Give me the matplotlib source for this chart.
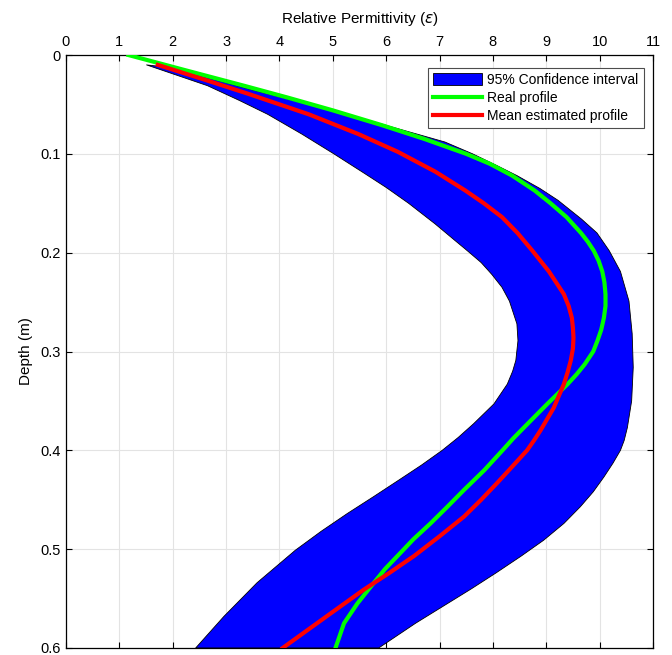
import matplotlib.pyplot as plt
from matplotlib.patches import Patch
from matplotlib.lines import Line2D

plt.rcParams['font.family'] = ['Liberation Sans', 'DejaVu Sans']

# Real profile (depth in m, relative permittivity)
real_depth = [0.000, 0.015, 0.031, 0.043, 0.056, 0.071, 0.085, 0.100, 0.110, 0.122,
              0.137, 0.150, 0.164, 0.180, 0.189, 0.198, 0.208, 0.219, 0.230, 0.242,
              0.254, 0.266, 0.278, 0.289, 0.300, 0.313, 0.323, 0.333, 0.343, 0.353,
              0.365, 0.377, 0.388, 0.400, 0.420, 0.440, 0.458, 0.474, 0.490, 0.507,
              0.520, 0.534, 0.555, 0.575, 0.600]
real_eps = [1.17, 2.21, 3.33, 4.15, 5.00, 5.92, 6.72, 7.50, 7.94, 8.36,
            8.78, 9.08, 9.38, 9.65, 9.78, 9.89, 9.98, 10.05, 10.09, 10.11,
            10.11, 10.08, 10.03, 9.96, 9.88, 9.72, 9.57, 9.40, 9.21, 9.02,
            8.80, 8.58, 8.38, 8.18, 7.84, 7.46, 7.13, 6.83, 6.51, 6.21,
            5.98, 5.77, 5.46, 5.21, 5.05]

# Mean estimated profile
mean_depth = [0.010, 0.025, 0.039, 0.060, 0.080, 0.098, 0.118, 0.137, 0.150, 0.164,
              0.180, 0.198, 0.219, 0.242, 0.254, 0.266, 0.276, 0.286, 0.297, 0.309,
              0.321, 0.333, 0.357, 0.380, 0.390, 0.400, 0.416, 0.433, 0.450, 0.467,
              0.487, 0.507, 0.524, 0.541, 0.565, 0.600]
mean_eps = [1.72, 2.60, 3.40, 4.55, 5.48, 6.22, 6.92, 7.48, 7.83, 8.17,
            8.46, 8.74, 9.05, 9.33, 9.42, 9.48, 9.50, 9.51, 9.50, 9.46,
            9.40, 9.33, 9.14, 8.89, 8.77, 8.64, 8.37, 8.08, 7.78, 7.46,
            7.00, 6.52, 6.06, 5.58, 4.96, 4.06]

# 95% confidence interval: right and left bounds
ci_hi_depth = [0.010, 0.013, 0.033, 0.058, 0.088, 0.100, 0.112, 0.122, 0.135, 0.147,
               0.166, 0.180, 0.198, 0.219, 0.249, 0.282, 0.316, 0.350, 0.377, 0.390,
               0.400, 0.413, 0.427, 0.442, 0.457, 0.474, 0.491, 0.507, 0.524, 0.540,
               0.555, 0.575, 0.600]
ci_hi_eps = [1.51, 2.00, 3.33, 5.14, 7.10, 7.62, 8.08, 8.45, 8.88, 9.22,
             9.66, 9.95, 10.18, 10.39, 10.55, 10.61, 10.63, 10.60, 10.52, 10.46,
             10.39, 10.25, 10.08, 9.88, 9.64, 9.33, 8.95, 8.53, 8.06, 7.60,
             7.15, 6.55, 5.86]
ci_lo_depth = [0.010, 0.031, 0.046, 0.060, 0.080, 0.100, 0.120, 0.134, 0.150, 0.171,
               0.185, 0.198, 0.210, 0.222, 0.235, 0.249, 0.272, 0.289, 0.309, 0.320,
               0.333, 0.353, 0.373, 0.387, 0.400, 0.415, 0.430, 0.447, 0.464, 0.482,
               0.501, 0.534, 0.568, 0.600]
ci_lo_eps = [1.51, 2.65, 3.25, 3.78, 4.42, 5.02, 5.60, 6.00, 6.42, 6.92,
             7.23, 7.52, 7.78, 7.98, 8.17, 8.31, 8.45, 8.47, 8.43, 8.37,
             8.27, 8.02, 7.64, 7.35, 7.05, 6.66, 6.24, 5.76, 5.27, 4.78,
             4.30, 3.58, 2.96, 2.43]

fig = plt.figure(figsize=(6.72, 6.55), dpi=100)
ax = fig.add_axes([0.0982, 0.0107, 0.8735, 0.9053])

poly_x = ci_hi_eps + ci_lo_eps[::-1]
poly_y = ci_hi_depth + ci_lo_depth[::-1]
ax.fill(poly_x, poly_y, facecolor='#0000ff', edgecolor='black', linewidth=0.6,
        joinstyle='round', zorder=2)
ax.plot(real_eps, real_depth, color='#00ff00', linewidth=3,
        solid_joinstyle='round', zorder=3)
ax.plot(mean_eps, mean_depth, color='#ff0000', linewidth=3,
        solid_joinstyle='round', zorder=4)

ax.set_xlim(0, 11)
ax.set_ylim(0.6, 0)
ax.set_xticks(range(0, 12))
ax.set_yticks([0, 0.1, 0.2, 0.3, 0.4, 0.5, 0.6])
ax.set_yticklabels(['0', '0.1', '0.2', '0.3', '0.4', '0.5', '0.6'])
ax.xaxis.tick_top()
ax.xaxis.set_label_position('top')
ax.tick_params(direction='in', length=4, width=0.8, labelsize=10.5,
               top=True, bottom=True, left=True, right=True, pad=4)
ax.grid(True, color='#e3e3e3', linewidth=0.8)
ax.set_axisbelow(True)
for s in ax.spines.values():
    s.set_linewidth(0.9)

ax.set_xlabel(r'Relative Permittivity ($\epsilon$)', fontsize=11, labelpad=9)
ax.set_ylabel('Depth (m)', fontsize=11, labelpad=5)

handles = [Patch(facecolor='#0000ff', edgecolor='black', linewidth=0.6),
           Line2D([], [], color='#00ff00', linewidth=3),
           Line2D([], [], color='#ff0000', linewidth=3)]
labels = ['95% Confidence interval', 'Real profile', 'Mean estimated profile']
leg = ax.legend(handles, labels, loc='upper right', bbox_to_anchor=(0.984, 0.978),
                fontsize=10, fancybox=False, framealpha=1, edgecolor='#4d4d4d',
                handlelength=3.5, handleheight=1.0, handletextpad=0.4,
                labelspacing=0.3, borderpad=0.35, borderaxespad=0)
leg.get_frame().set_linewidth(0.8)

plt.savefig('out.png', dpi=100)
